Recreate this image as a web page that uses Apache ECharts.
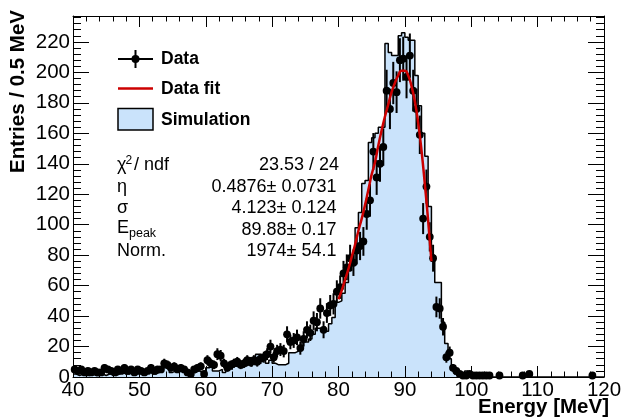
<!DOCTYPE html>
<html><head><meta charset="utf-8">
<script src="https://cdn.jsdelivr.net/npm/echarts@6.0.0/dist/echarts.min.js"></script>
<style>html,body{margin:0;padding:0;background:#fff}#c{width:623px;height:418px}</style>
</head><body><div id="c"></div>
<script>
// ---- axis ranges / ticks ----
const xMin = 40, xMax = 120, binWidth = 0.5;
const xTickLabels = [40, 50, 60, 70, 80, 90, 100, 110, 120];
const yMax = 237;
const yTickLabels = [0, 20, 40, 60, 80, 100, 120, 140, 160, 180, 200, 220];

// ---- data counts per 0.5 MeV bin (null = empty bin) ----
const data40 = [5,4,5,3,4,3,4,3,3,6, 5,4,3,5,4,6,4,5,3,5];
const data50 = [4,3,4,6,4,5,5,9,8,6, 7,5,6,5,3,2,5,6,7,2];
const data60 = [11,9,8,15,14,9,6,8,9,10, 8,9,11,10,11,10,12,13,15,20];
const data70 = [13,17,18,17,28,23,24,26,19,25, 31,29,37,36,45,31,42,47,48,56];
const data80 = [59,68,72,78,75,83,86,89,107,116, 148,131,140,151,188,176,193,187,208,209];
const data90 = [197,211,188,176,159,104,125,92,78,46, 45,33,13,16,6,4,2,1,1,2];
const data100 = [1,1,1,1,1,1,null,null,1,null, null,null,null,null,null,1,null,2,null,null];
const data110 = [null,null,null,null,null,null,null,null,null,null, null,null,null,null,null,null,1,null,null,null];

// ---- simulation counts per bin ----
const sim40 = [2,1,2,1,1,2,1,1,2,1, 2,2,1,2,3,2,2,3,2,2];
const sim50 = [3,2,3,4,2,3,4,6,5,3, 4,6,5,4,2,3,3,4,3,4];
const sim60 = [6,7,4,4,5,3,6,5,7,7, 6,7,8,7,9,15,14,12,9,11];
const sim70 = [9,8,8,8,9,16,16,17,20,23, 23,25,28,32,32,33,30,35,39,49];
const sim80 = [50,55,62,70,74,98,108,127,129,154, 157,160,164,164,219,213,211,211,224,226];
const sim90 = [223,221,221,198,178,160,145,112,80,62, 62,36,22,12,5,2,1,1,4,1];
const sim100 = [1,1,1,0,0,0,0,0,0,0, 0,0,0,0,0,0,0,0,0,0];
const sim110 = [0,0,0,0,0,0,0,0,0,0, 0,0,0,0,0,0,0,0,0,0];

// ---- fit curve ----
const fitE = [80,80.5,81,81.5,82,82.5,83,83.5,84,84.5,85,85.5,86,86.5,87,87.5,88,88.5,89,89.5,90,90.5,91,91.5,92,92.5,93,93.5,94];
const fitV = [51,57,64,71,79,87,96,104,113,123,133,141,152,162,171,179,187,193,198,201,201,198,191,181,167,149,127,103,76];

const dataCounts = [].concat(data40,data50,data60,data70,data80,data90,data100,data110);
const simCounts = [].concat(sim40,sim50,sim60,sim70,sim80,sim90,sim100,sim110);

const FONT = 'Liberation Sans, Arial, Helvetica, sans-serif';
const SIMFILL = '#cae3fb';

const simLine = simCounts.map((v, i) => [xMin + i * binWidth, v]);
simLine.push([xMax, simCounts[simCounts.length - 1]]);

const pts = [];
dataCounts.forEach((v, i) => {
  if (v !== null) pts.push([xMin + (i + 0.5) * binWidth, v, Math.sqrt(v)]); // Poisson error of each count
});
const fitData = fitE.map((e, i) => [e, fitV[i]]);

const chart = echarts.init(document.getElementById('c'), null, {renderer: 'canvas'});

const axisCommon = {
  axisLine: {show: true, onZero: false, lineStyle: {color: '#000', width: 1}},
  splitLine: {show: false},
  z: 10
};

chart.setOption({
  animation: false,
  backgroundColor: '#fff',
  grid: {left: 73, right: 19, top: 16, bottom: 41, containLabel: false, outerBoundsMode: 'none'},
  xAxis: [
    Object.assign({}, axisCommon, {
      type: 'value', min: xMin, max: xMax, interval: 10, position: 'bottom',
      axisTick: {show: true, inside: true, length: 11, lineStyle: {color: '#000', width: 1}},
      minorTick: {show: true, splitNumber: 5, length: 5.5, lineStyle: {color: '#000', width: 1}},
      axisLabel: {show: true, color: '#000', fontFamily: FONT, fontSize: 20.5, margin: 2.5,
        formatter: v => xTickLabels.indexOf(v) >= 0 ? String(v) : ''}
    }),
    Object.assign({}, axisCommon, {
      type: 'value', min: xMin, max: xMax, interval: 10, position: 'top',
      axisTick: {show: true, inside: true, length: 11, lineStyle: {color: '#000', width: 1}},
      minorTick: {show: true, splitNumber: 5, length: 5.5, lineStyle: {color: '#000', width: 1}},
      axisLabel: {show: false}
    })
  ],
  yAxis: [
    Object.assign({}, axisCommon, {
      type: 'value', min: 0, max: yMax, interval: 20, position: 'left',
      axisTick: {show: true, inside: true, length: 16, lineStyle: {color: '#000', width: 1}},
      minorTick: {show: true, splitNumber: 5, length: 8, lineStyle: {color: '#000', width: 1}},
      axisLabel: {show: true, color: '#000', fontFamily: FONT, fontSize: 20.5, margin: 3,
        formatter: v => yTickLabels.indexOf(v) >= 0 ? String(v) : ''}
    }),
    Object.assign({}, axisCommon, {
      type: 'value', min: 0, max: yMax, interval: 20, position: 'right',
      axisTick: {show: true, inside: true, length: 16, lineStyle: {color: '#000', width: 1}},
      minorTick: {show: true, splitNumber: 5, length: 8, lineStyle: {color: '#000', width: 1}},
      axisLabel: {show: false}
    })
  ],
  series: [
    {
      type: 'line', name: 'Simulation', data: simLine, step: 'end', symbol: 'none',
      xAxisIndex: 0, yAxisIndex: 0,
      lineStyle: {color: '#000', width: 1.5},
      areaStyle: {color: SIMFILL, opacity: 1, origin: 0},
      z: 1, silent: true, clip: true
    },
    {
      type: 'custom', name: 'Data', data: pts, xAxisIndex: 0, yAxisIndex: 0,
      encode: {x: 0, y: 1}, z: 3, silent: true,
      renderItem: function (params, api) {
        const x = api.value(0), y = api.value(1), e = api.value(2);
        const p = api.coord([x, y]);
        const t = api.coord([x, y + e]);
        const b = api.coord([x, Math.max(0, y - e)]);
        return {type: 'group', children: [
          {type: 'line', shape: {x1: p[0], y1: t[1], x2: p[0], y2: b[1]}, style: {stroke: '#000', lineWidth: 2}},
          {type: 'circle', shape: {cx: p[0], cy: p[1], r: 3.9}, style: {fill: '#000'}}
        ]};
      }
    },
    {
      type: 'line', name: 'Data fit', data: fitData, smooth: true, symbol: 'none',
      xAxisIndex: 0, yAxisIndex: 0,
      lineStyle: {color: '#cc0000', width: 2.5}, z: 4, silent: true
    }
  ],
  graphic: [
    // axis titles
    {type: 'text', x: 18.5, y: 10, rotation: Math.PI / 2,
      style: {text: 'Entries / 0.5 MeV', font: 'bold 20.5px ' + FONT, fill: '#000', textAlign: 'right', textVerticalAlign: 'middle'}},
    {type: 'text', x: 609, y: 407,
      style: {text: 'Energy [MeV]', font: 'bold 20.5px ' + FONT, fill: '#000', textAlign: 'right', textVerticalAlign: 'middle'}},
    // legend
    {type: 'line', shape: {x1: 118, y1: 59, x2: 153, y2: 59}, style: {stroke: '#000', lineWidth: 2}, z: 20},
    {type: 'line', shape: {x1: 135.5, y1: 50, x2: 135.5, y2: 68}, style: {stroke: '#000', lineWidth: 2}, z: 20},
    {type: 'circle', shape: {cx: 135.5, cy: 59, r: 4}, style: {fill: '#000'}, z: 20},
    {type: 'text', x: 161, y: 59, style: {text: 'Data', font: 'bold 17.5px ' + FONT, fill: '#000', textAlign: 'left', textVerticalAlign: 'middle'}, z: 20},
    {type: 'line', shape: {x1: 118, y1: 88.5, x2: 153, y2: 88.5}, style: {stroke: '#cc0000', lineWidth: 2.5}, z: 20},
    {type: 'text', x: 161, y: 89, style: {text: 'Data fit', font: 'bold 17.5px ' + FONT, fill: '#000', textAlign: 'left', textVerticalAlign: 'middle'}, z: 20},
    {type: 'rect', shape: {x: 118, y: 108.5, width: 35, height: 21.5}, style: {fill: SIMFILL, stroke: '#000', lineWidth: 1.5}, z: 20},
    {type: 'text', x: 161, y: 120, style: {text: 'Simulation', font: 'bold 17.5px ' + FONT, fill: '#000', textAlign: 'left', textVerticalAlign: 'middle'}, z: 20},
    // fit statistics
    {type: 'text', x: 117, y: 165.5, style: {text: '\u03c7', font: '18px ' + FONT, fill: '#000', textAlign: 'left', textVerticalAlign: 'middle'}, z: 20},
    {type: 'text', x: 125.5, y: 160.5, style: {text: '2', font: '12px ' + FONT, fill: '#000', textAlign: 'left', textVerticalAlign: 'middle'}, z: 20},
    {type: 'text', x: 134, y: 165.5, style: {text: '/ ndf', font: '18px ' + FONT, fill: '#000', textAlign: 'left', textVerticalAlign: 'middle'}, z: 20},
    {type: 'text', x: 339, y: 165.5, style: {text: '23.53 / 24', font: '18px ' + FONT, fill: '#000', textAlign: 'right', textVerticalAlign: 'middle'}, z: 20},
    {type: 'text', x: 117, y: 187, style: {text: '\u03b7', font: '18px ' + FONT, fill: '#000', textAlign: 'left', textVerticalAlign: 'middle'}, z: 20},
    {type: 'text', x: 336.5, y: 187, style: {text: '0.4876\u00b1 0.0731', font: '18px ' + FONT, fill: '#000', textAlign: 'right', textVerticalAlign: 'middle'}, z: 20},
    {type: 'text', x: 117, y: 208.5, style: {text: '\u03c3', font: '18px ' + FONT, fill: '#000', textAlign: 'left', textVerticalAlign: 'middle'}, z: 20},
    {type: 'text', x: 336.5, y: 208.5, style: {text: '4.123\u00b1 0.124', font: '18px ' + FONT, fill: '#000', textAlign: 'right', textVerticalAlign: 'middle'}, z: 20},
    {type: 'text', x: 117, y: 228.5, style: {text: 'E', font: '18px ' + FONT, fill: '#000', textAlign: 'left', textVerticalAlign: 'middle'}, z: 20},
    {type: 'text', x: 129, y: 234, style: {text: 'peak', font: '12.5px ' + FONT, fill: '#000', textAlign: 'left', textVerticalAlign: 'middle'}, z: 20},
    {type: 'text', x: 336.5, y: 230, style: {text: '89.88\u00b1 0.17', font: '18px ' + FONT, fill: '#000', textAlign: 'right', textVerticalAlign: 'middle'}, z: 20},
    {type: 'text', x: 117, y: 251.5, style: {text: 'Norm.', font: '18px ' + FONT, fill: '#000', textAlign: 'left', textVerticalAlign: 'middle'}, z: 20},
    {type: 'text', x: 336.5, y: 251.5, style: {text: '1974\u00b1 54.1', font: '18px ' + FONT, fill: '#000', textAlign: 'right', textVerticalAlign: 'middle'}, z: 20}
  ]
});
</script>
</body></html>
